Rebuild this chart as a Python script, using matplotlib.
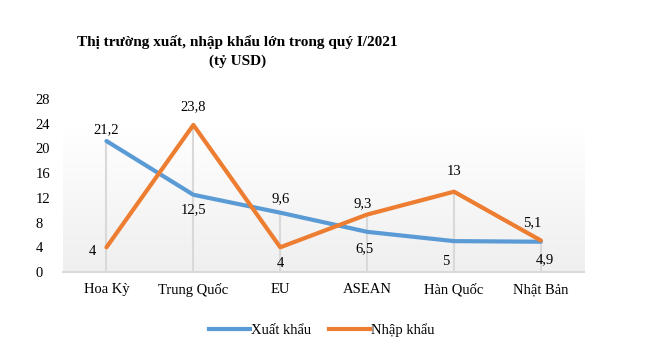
import numpy as np
import matplotlib.pyplot as plt
from matplotlib.lines import Line2D
from matplotlib.colors import LinearSegmentedColormap

plt.rcParams['font.family'] = ['Liberation Serif', 'DejaVu Serif']

categories = ['Hoa Kỳ', 'Trung Quốc', 'EU', 'ASEAN', 'Hàn Quốc', 'Nhật Bản']
xuat_khau = [21.2, 12.5, 9.6, 6.5, 5.0, 4.9]
nhap_khau = [4.0, 23.8, 4.0, 9.3, 13.0, 5.1]
yticks = [0, 4, 8, 12, 16, 20, 24, 28]

# label placement per point: (dx, dy) in points
xk_offsets = [(0, 8), (0, -11), (0, 10), (-2, -12), (-6, -15), (3, -13)]
nk_offsets = [(-10, -3), (0, 13), (0, -12), (-3, 8), (0, 14.5), (-6.5, 12.5)]

blue = '#5B9BD5'
orange = '#ED7D31'


def fmt(v):
    s = ('%.1f' % v).rstrip('0').rstrip('.')
    return s.replace('.', ',')


fig = plt.figure(figsize=(6.5, 3.61), dpi=100)
fig.set_facecolor('white')
ax = fig.add_axes([0.097, 0.2465, 0.802, 0.4793])

x = np.arange(len(categories))

# plot area gradient (white on top, light grey at bottom)
grad = np.linspace(1.0, 0.0, 256).reshape(-1, 1)
top_frac = 23.5 / 28
ax.imshow(grad, extent=[0, 1, 0, top_frac], transform=ax.transAxes,
          cmap=LinearSegmentedColormap.from_list('g', ['#efefef', '#ffffff']),
          aspect='auto', zorder=0, vmin=0, vmax=1)

# drop lines
for i in x:
    ax.plot([i, i], [0, max(xuat_khau[i], nhap_khau[i])], color='#d9d9d9',
            lw=1.5, zorder=1)

ax.plot(x, xuat_khau, color=blue, lw=3, zorder=3, solid_capstyle='round')
ax.plot(x, nhap_khau, color=orange, lw=3, zorder=3, solid_capstyle='round')

for i in x:
    ax.annotate(fmt(xuat_khau[i]), (i, xuat_khau[i]), xytext=xk_offsets[i],
                textcoords='offset points', ha='center', va='center',
                fontsize=10.5)
    ax.annotate(fmt(nhap_khau[i]), (i, nhap_khau[i]), xytext=nk_offsets[i],
                textcoords='offset points', ha='center', va='center',
                fontsize=10.5)

ax.set_xlim(-0.5, 5.5)
ax.set_ylim(0, 28)
ax.set_yticks(yticks)
ax.set_xticks(x)
ax.set_xticklabels(categories)
ax.tick_params(axis='both', length=0, labelsize=10.5)
ax.tick_params(axis='y', pad=20)
ax.tick_params(axis='x', pad=8)
for s in ['top', 'right', 'left']:
    ax.spines[s].set_visible(False)
ax.spines['bottom'].set_color('#d9d9d9')
ax.spines['bottom'].set_linewidth(1.5)
ax.set_facecolor('none')
for lab in ax.get_yticklabels():
    lab.set_horizontalalignment('left')

fig.text(0.365, 0.883, 'Thị trường xuất, nhập khẩu lớn trong quý I/2021',
         ha='center', va='center', fontsize=11, fontweight='bold')
fig.text(0.365, 0.830, '(tỷ USD)', ha='center', va='center',
         fontsize=11, fontweight='bold')

handles = [Line2D([], [], color=blue, lw=3), Line2D([], [], color=orange, lw=3)]
fig.legend(handles, ['Xuất khẩu', 'Nhập khẩu'], loc='center',
           bbox_to_anchor=(0.495, 0.085), ncol=2, frameon=False,
           fontsize=10.5, handlelength=2.8, handletextpad=0.1,
           columnspacing=1.2)

fig.savefig('out.png', dpi=100, facecolor='white')
